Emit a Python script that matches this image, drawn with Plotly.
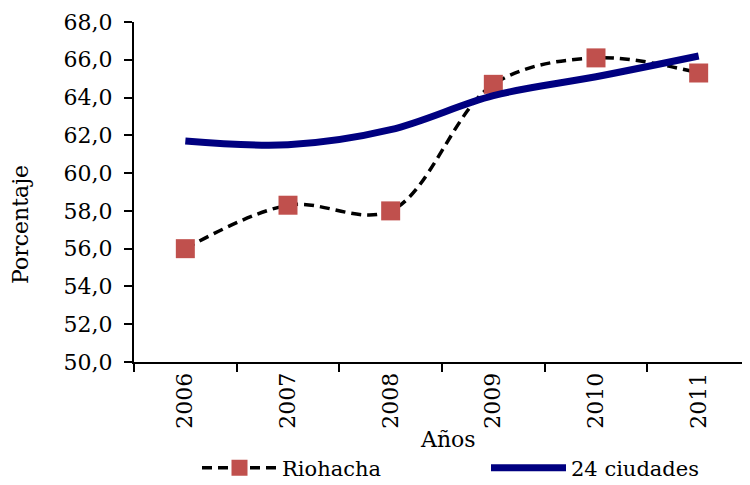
import plotly.graph_objects as go

years = ["2006", "2007", "2008", "2009", "2010", "2011"]
riohacha = [56.0, 58.3, 58.0, 64.7, 66.1, 65.3]
ciudades24 = [61.7, 61.5, 62.3, 64.1, 65.1, 66.2]

FONT = "DejaVu Serif"
OFF = 8  # page body margin offset
W, H = 750, 485
L, T = 134 - OFF, 22 - OFF
R = W - (750 - OFF)
B = H - (362 - OFF)
PW, PH = W - L - R, H - T - B


def px_x(x):
    return (x - OFF - L) / PW


def px_y(y):
    return (T + PH - (y - OFF)) / PH


fig = go.Figure()
fig.add_trace(go.Scatter(
    x=years, y=riohacha, name="Riohacha", mode="lines+markers", legend="legend",
    line=dict(color="black", width=3.5, dash="10px,6px", shape="spline", smoothing=1),
    marker=dict(symbol="square", size=19, color="#C0504D"),
))
fig.add_trace(go.Scatter(
    x=years, y=ciudades24, name="24 ciudades", mode="lines", legend="legend2",
    line=dict(color="#000080", width=7, shape="spline", smoothing=1),
))

leg_common = dict(orientation="h", xanchor="left", y=px_y(468), yanchor="middle",
                  font=dict(family=FONT, size=21, color="black"),
                  itemwidth=75, bgcolor="rgba(0,0,0,0)")

fig.update_layout(
    width=W, height=H,
    margin=dict(l=L, r=R, t=T, b=B, autoexpand=False),
    paper_bgcolor="white", plot_bgcolor="white",
    separators=",.",
    font=dict(family=FONT, size=22, color="black"),
    showlegend=True,
    legend=dict(x=px_x(197), **leg_common),
    legend2=dict(x=px_x(486), **leg_common),
    annotations=[
        dict(text="Porcentaje", textangle=-90, xref="paper", yref="paper",
             x=px_x(20), y=px_y(225), xanchor="center", yanchor="middle",
             showarrow=False, font=dict(family=FONT, size=22)),
        dict(text="Años", xref="paper", yref="paper",
             x=px_x(448), y=px_y(439), xanchor="center", yanchor="middle",
             showarrow=False, font=dict(family=FONT, size=22)),
    ],
)
fig.update_xaxes(
    type="category", tickson="boundaries", ticks="outside", ticklen=8, tickwidth=2,
    tickcolor="black", showline=True, linecolor="black", linewidth=2,
    tickangle=-90, showgrid=False, range=[-0.5, 5.5], automargin=False,
)
fig.update_yaxes(
    range=[50, 68], dtick=2, tickformat=".1f", ticks="outside", ticklen=8,
    tickwidth=2, tickcolor="black", showline=True, linecolor="black", linewidth=2,
    showgrid=False, zeroline=False, automargin=False, ticklabelstandoff=7,
)

fig.write_html("out.html")
